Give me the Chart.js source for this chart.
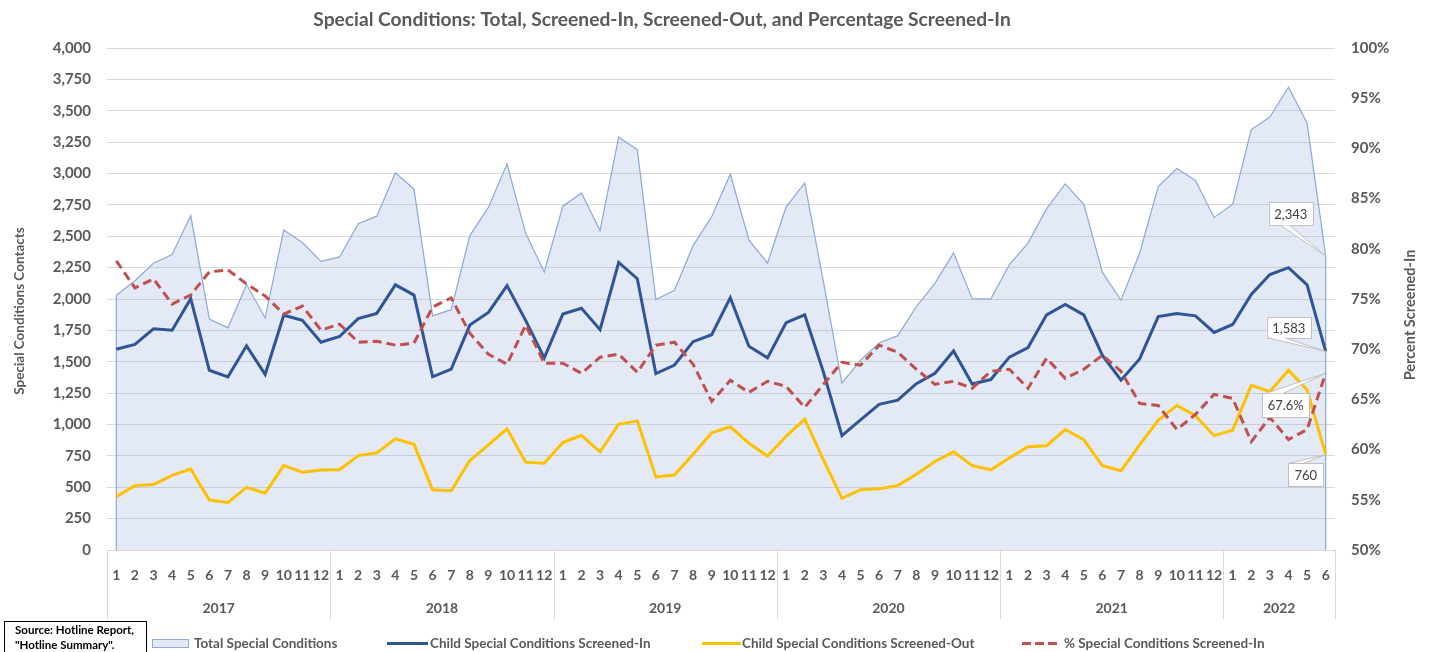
<!DOCTYPE html>
<html>
<head>
<meta charset="utf-8">
<title>Special Conditions</title>
<script src="https://cdn.jsdelivr.net/npm/chart.js@4.4.1/dist/chart.umd.min.js"></script>
<style>
  html, body { margin: 0; padding: 0; background: #fff; }
  #wrap { position: relative; width: 1431px; height: 652px; overflow: hidden; font-family: Lato, "Open Sans", sans-serif; }
  #wrap canvas { position: absolute; left: 0; top: 0; }
  .sym { position: absolute; box-sizing: border-box; }
  .lgtext { position: absolute; top: 634px; line-height: 18px; font-size: 13.5px; font-weight: bold; color: #595959; white-space: nowrap; }
  #source { position: absolute; left: 4px; top: 621px; width: 143px; height: 40px; box-sizing: border-box;
            border: 1px solid #000; padding: 0 0 0 10px; font-size: 11.5px; line-height: 15px; font-weight: bold; color: #000; }
</style>
</head>
<body>
<div id="wrap">
  <canvas id="chart" width="1431" height="652"></canvas>

  <div class="sym" style="left:152px; top:639px; width:37px; height:9px; background:rgb(227,234,246); border:1px solid #8FAADC;"></div>
  <div class="lgtext" style="left:194px;">Total Special Conditions</div>

  <div class="sym" style="left:387px; top:642px; width:41px; height:3px; background:#2F5597;"></div>
  <div class="lgtext" style="left:430px;">Child Special Conditions Screened-In</div>

  <div class="sym" style="left:702px; top:642px; width:39px; height:3px; background:#FFC000;"></div>
  <div class="lgtext" style="left:742px;">Child Special Conditions Screened-Out</div>

  <div class="sym" style="left:1022px; top:642px; width:36px; height:3px; background:repeating-linear-gradient(90deg,#C0504D 0 9px,transparent 9px 13px);"></div>
  <div class="lgtext" style="left:1064px;">% Special Conditions Screened-In</div>

  <div id="source">Source: Hotline Report,<br>"Hotline Summary".</div>
</div>

<script>
// months, Jan 2017 - Jun 2022
const monthLabels = [
  '1','2','3','4','5','6','7','8','9','10','11','12',
  '1','2','3','4','5','6','7','8','9','10','11','12',
  '1','2','3','4','5','6','7','8','9','10','11','12',
  '1','2','3','4','5','6','7','8','9','10','11','12',
  '1','2','3','4','5','6','7','8','9','10','11','12',
  '1','2','3','4','5','6'
];
const yearLabels = ['2017', '2018', '2019', '2020', '2021', '2022'];
const yearMonths = [12, 12, 12, 12, 12, 6];

const totalSpecial = [
  2030, 2145, 2285, 2355, 2665, 1840, 1770, 2115, 1850, 2550, 2450, 2300,
  2335, 2600, 2660, 3005, 2875, 1865, 1915, 2505, 2730, 3075, 2525, 2215,
  2740, 2845, 2545, 3290, 3190, 1995, 2070, 2425, 2655, 2995, 2470, 2285,
  2735, 2925, 2140, 1330, 1512, 1650, 1708, 1940, 2125, 2368, 2003, 2000,
  2275, 2445, 2720, 2917, 2755, 2212, 1990, 2365, 2895, 3040, 2945, 2650,
  2755, 3350, 3450, 3688, 3400, 2343
];
const screenedIn = [
  1600, 1638, 1762, 1751, 2003, 1432, 1380, 1627, 1399, 1871, 1830, 1655,
  1701, 1844, 1885, 2113, 2031, 1380, 1441, 1792, 1893, 2107, 1830, 1531,
  1880, 1926, 1756, 2291, 2162, 1405, 1474, 1660, 1715, 2011, 1624, 1531,
  1811, 1874, 1420,  911, 1037, 1161, 1194, 1325, 1408, 1586, 1323, 1358,
  1537, 1613, 1874, 1956, 1874, 1550, 1353, 1523, 1860, 1885, 1866, 1734,
  1797, 2036, 2195, 2250, 2113, 1583
];
const screenedOut = [
   425,  513,  521,  595,  645,  398,  379,  499,  453,  672,  620,  637,
   639,  752,  774,  886,  842,  480,  472,  713,  837,  966,  700,  691,
   856,  914,  782, 1002, 1029,  582,  598,  763,  933,  982,  851,  749,
   906, 1043,  720,  412,  480,  488,  513,  604,  705,  782,  672,  639,
   733,  823,  831,  960,  878,  672,  631,  837, 1034, 1152, 1070,  911,
   955, 1312, 1262, 1432, 1276,  760
];
const pctScreenedIn = [
  78.8, 76.1, 77.0, 74.5, 75.4, 77.7, 77.9, 76.5, 75.3, 73.5, 74.3, 71.9,
  72.5, 70.7, 70.8, 70.4, 70.6, 74.2, 75.1, 71.6, 69.5, 68.5, 72.4, 68.6,
  68.6, 67.6, 69.2, 69.5, 67.7, 70.4, 70.7, 68.5, 64.8, 66.9, 65.7, 66.8,
  66.3, 64.2, 66.5, 68.7, 68.4, 70.4, 69.7, 68.0, 66.5, 66.8, 66.1, 67.8,
  68.0, 66.1, 69.1, 67.1, 68.0, 69.4, 67.8, 64.6, 64.4, 62.0, 63.5, 65.5,
  65.1, 60.8, 63.2, 61.0, 62.0, 67.6
];

const textGray = '#595959';
const gridGray = '#D9D9D9';
const fontFam = 'Lato, "Open Sans", sans-serif';

// last-point callouts: dataset index, box offset from the point, pointer base on box edge
const callouts = [
  { ds: 0, dx: -35, dy: -42, w: 44, h: 23, edge: 'bottom', b0: 12, b1: 21, fmt: v => v.toLocaleString('en-US') },
  { ds: 1, dx: -37, dy: -24, w: 44, h: 21, edge: 'bottom', b0: 1, b1: 18, fmt: v => v.toLocaleString('en-US') },
  { ds: 3, dx: -40, dy: 32, w: 47, h: 24, edge: 'top', b0: 4, b1: 21, fmt: v => v.toFixed(1) + '%' },
  { ds: 2, dx: -20, dy: 20, w: 35, h: 23, edge: 'top', b0: 2, b1: 16, fmt: v => String(v) }
];

const decorPlugin = {
  id: 'decor',
  afterDatasetDraw(chart, args) {
    // vertical edges of the area series
    if (args.index !== 0) return;
    const pts = args.meta.data;
    const base = chart.scales.y.getPixelForValue(0);
    const ctx = chart.ctx;
    ctx.save();
    ctx.strokeStyle = '#8FAADC';
    ctx.lineWidth = 1.25;
    [pts[0], pts[pts.length - 1]].forEach(p => {
      ctx.beginPath();
      ctx.moveTo(p.x, p.y);
      ctx.lineTo(p.x, base);
      ctx.stroke();
    });
    ctx.restore();
  },
  afterDraw(chart) {
    const ctx = chart.ctx;
    const xs = chart.scales.x;
    const area = chart.chartArea;
    ctx.save();

    // year groups under the month labels
    const step = xs.getPixelForValue(1) - xs.getPixelForValue(0);
    ctx.strokeStyle = gridGray;
    ctx.lineWidth = 1;
    ctx.fillStyle = textGray;
    ctx.font = 'bold 14px ' + fontFam;
    ctx.textAlign = 'center';
    ctx.textBaseline = 'middle';
    let start = 0;
    yearLabels.forEach((yr, k) => {
      const end = start + yearMonths[k] - 1;
      const x0 = xs.getPixelForValue(start) - step / 2;
      const x1 = xs.getPixelForValue(end) + step / 2;
      const lines = k === yearLabels.length - 1 ? [x0, x1] : [x0];
      lines.forEach(lx => {
        ctx.beginPath();
        ctx.moveTo(Math.round(lx) + 0.5, area.bottom);
        ctx.lineTo(Math.round(lx) + 0.5, 619);
        ctx.stroke();
      });
      ctx.fillText(yr, (x0 + x1) / 2, 608);
      start = end + 1;
    });

    // chart title
    ctx.font = 'bold 19.2px ' + fontFam;
    ctx.fillText('Special Conditions: Total, Screened-In, Screened-Out, and Percentage Screened-In', 662, 20);

    // axis titles
    ctx.font = 'bold 13.5px ' + fontFam;
    ctx.save();
    ctx.translate(20, 311);
    ctx.rotate(-Math.PI / 2);
    ctx.fillText('Special Conditions Contacts', 0, 0);
    ctx.restore();
    ctx.font = 'bold 14.5px ' + fontFam;
    ctx.save();
    ctx.translate(1410, 315);
    ctx.rotate(-Math.PI / 2);
    ctx.fillText('Percent Screened-In', 0, 0);
    ctx.restore();

    // value callouts at the last month
    ctx.font = '13px ' + fontFam;
    callouts.forEach(c => {
      const meta = chart.getDatasetMeta(c.ds);
      const p = meta.data[meta.data.length - 1];
      const values = chart.data.datasets[c.ds].data;
      const cx = p.x + c.dx, cy = p.y + c.dy;
      const bx = cx - c.w / 2, by = cy - c.h / 2;
      const ey = c.edge === 'top' ? by : by + c.h;
      ctx.fillStyle = '#fff';
      ctx.strokeStyle = '#BFBFBF';
      ctx.lineWidth = 1;
      ctx.fillRect(bx, by, c.w, c.h);
      ctx.strokeRect(Math.round(bx) + 0.5, Math.round(by) + 0.5, c.w, c.h);
      ctx.beginPath();
      ctx.moveTo(bx + c.b0, ey);
      ctx.lineTo(p.x, p.y);
      ctx.lineTo(bx + c.b1, ey);
      ctx.closePath();
      ctx.fill();
      ctx.beginPath();
      ctx.moveTo(bx + c.b0, ey);
      ctx.lineTo(p.x, p.y);
      ctx.lineTo(bx + c.b1, ey);
      ctx.stroke();
      ctx.fillStyle = '#404040';
      ctx.fillText(c.fmt(values[values.length - 1]), cx, cy + 1);
    });
    ctx.restore();
  }
};

const tickFont = { family: fontFam, size: 15, weight: 'bold' };

new Chart(document.getElementById('chart'), {
  type: 'line',
  data: {
    labels: monthLabels,
    datasets: [
      {
        label: 'Total Special Conditions',
        data: totalSpecial,
        yAxisID: 'y',
        fill: 'origin',
        backgroundColor: 'rgba(143,170,220,0.25)',
        borderColor: '#8FAADC',
        borderWidth: 1.25,
        pointRadius: 0,
        tension: 0,
        order: 4
      },
      {
        label: 'Child Special Conditions Screened-In',
        data: screenedIn,
        yAxisID: 'y',
        fill: false,
        borderColor: '#2F5597',
        borderWidth: 3,
        pointRadius: 0,
        tension: 0,
        order: 3
      },
      {
        label: 'Child Special Conditions Screened-Out',
        data: screenedOut,
        yAxisID: 'y',
        fill: false,
        borderColor: '#FFC000',
        borderWidth: 3,
        pointRadius: 0,
        tension: 0,
        order: 2
      },
      {
        label: '% Special Conditions Screened-In',
        data: pctScreenedIn,
        yAxisID: 'y2',
        fill: false,
        borderColor: '#C0504D',
        borderWidth: 3,
        borderDash: [9, 5],
        pointRadius: 0,
        tension: 0,
        order: 1
      }
    ]
  },
  options: {
    responsive: false,
    animation: false,
    devicePixelRatio: 1,
    events: [],
    layout: { padding: { top: 48, left: 0, right: 0, bottom: 0 } },
    plugins: {
      legend: { display: false },
      title: { display: false },
      tooltip: { enabled: false }
    },
    scales: {
      x: {
        offset: true,
        grid: { display: false, drawTicks: false },
        border: { display: true, color: gridGray },
        ticks: { autoSkip: false, maxRotation: 0, padding: 17, color: textGray, font: { family: fontFam, size: 14, weight: 'bold' } },
        afterFit: s => { s.height = 102; }
      },
      y: {
        position: 'left',
        min: 0,
        max: 4000,
        grid: { color: gridGray, drawTicks: false },
        border: { display: false },
        ticks: { stepSize: 250, padding: 16, color: textGray, font: tickFont, callback: v => v.toLocaleString('en-US') },
        afterFit: s => { s.width = 107; }
      },
      y2: {
        position: 'right',
        min: 50,
        max: 100,
        grid: { display: false, drawTicks: false },
        border: { display: false },
        ticks: { stepSize: 5, padding: 16, color: textGray, font: tickFont, callback: v => v + '%' },
        afterFit: s => { s.width = 96; }
      }
    }
  },
  plugins: [decorPlugin]
});
</script>
</body>
</html>
